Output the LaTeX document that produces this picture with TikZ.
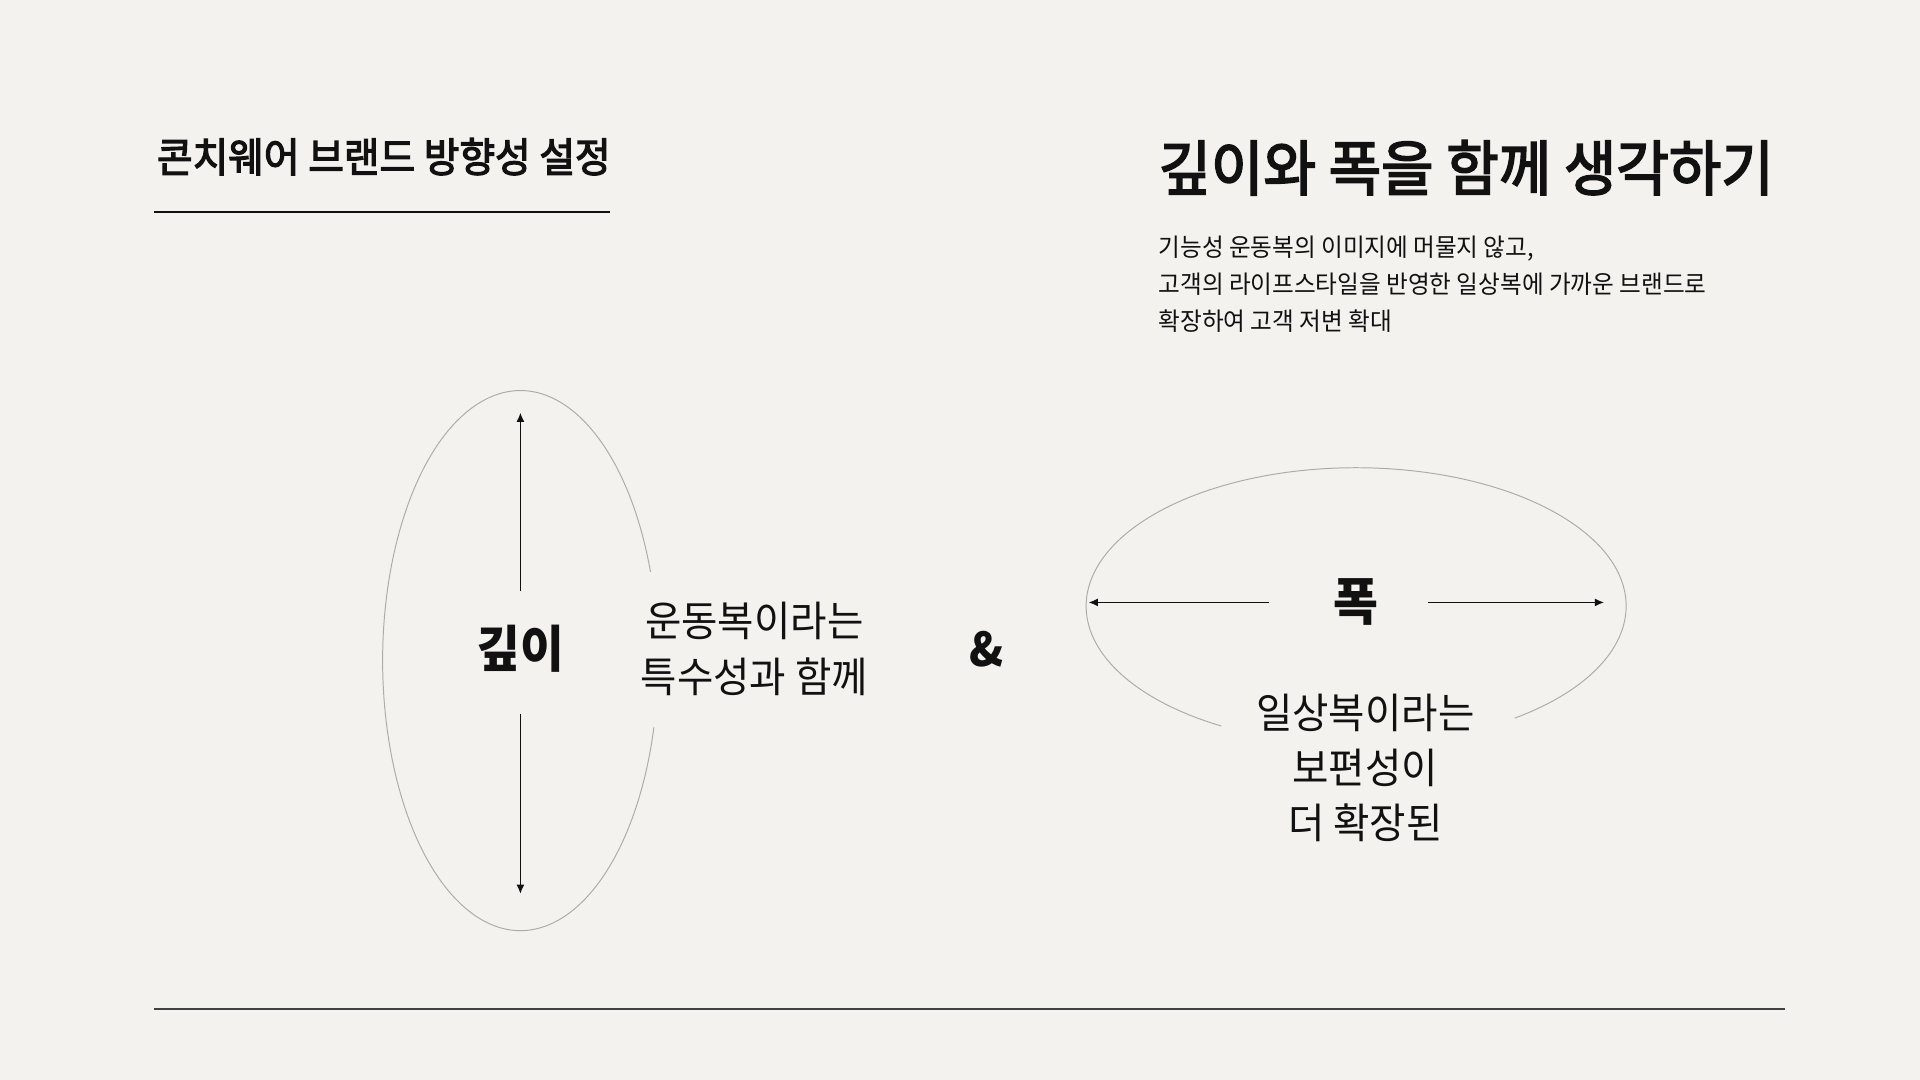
\documentclass[tikz,border=0pt]{standalone}
\usepackage{fontspec}
\usepackage{tikz}
\usetikzlibrary{calc}
\usetikzlibrary{arrows.meta}
\setmainfont[FakeStretch=0.95]{Noto Sans CJK KR}
\newfontfamily\krmed[FakeStretch=0.95,FakeBold=3]{Noto Sans CJK KR}
\definecolor{paper}{RGB}{243, 242, 238}
\definecolor{ink}{RGB}{17, 17, 17}
\definecolor{rim}{RGB}{172, 172, 168}
\newcommand{\fsz}[2]{\fontsize{#1pt}{#2pt}\selectfont}

\begin{document}
\begin{tikzpicture}[x=1pt, y=1pt,
    txt/.style={inner sep=0pt, text=ink},
    rimline/.style={color=rim, line width=0.8pt},
    axis/.style={color=ink, line width=1.2pt, -{Latex[length=7.5pt,width=6.5pt]}}]
  \fill[paper] (0,0) rectangle (1568,882);
  % header
  \node[txt, anchor=west, font=\krmed\fsz{33.3}{38}] (title) at (128,754) {콘치웨어 브랜드 방향성 설정};
  \draw[ink, line width=1.6pt] (126,709) -- (498,709);
  \node[txt, anchor=west, font=\krmed\fsz{49}{56}] (heading) at (946,745) {깊이와 폭을 함께 생각하기};
  \node[txt, anchor=west, align=left, font=\fsz{20.3}{30}] (intro) at (946,650)
       {기능성 운동복의 이미지에 머물지 않고,\\
        고객의 라이프스타일을 반영한 일상복에 가까운 브랜드로\\
        확장하여 고객 저변 확대};
  % depth
  \draw[rimline] (425,342.5) ++(19.2:112.5 and 220.5)
       arc[start angle=19.2, end angle=345.7, x radius=112.5, y radius=220.5];
  \node[txt, font=\bfseries\fsz{41}{46}] (depth) at (425,352) {깊이};
  \coordinate (depthUp) at (425,399);
  \coordinate (depthTop) at (425,545);
  \coordinate (depthDown) at (425,299);
  \coordinate (depthBot) at (425,152);
  \draw[axis] (depthUp) -- (depthTop);
  \draw[axis] (depthDown) -- (depthBot);
  \node[txt, align=center, font=\fsz{34}{46}] (sport) at (616,352) {운동복이라는\\특수성과 함께};
  \node[txt, font=\bfseries\fsz{38}{44}] (amp) at (806,352) {\&};
  % width
  \draw[rimline] (1107.5,387) ++(-54:220.5 and 113)
       arc[start angle=-54, end angle=240, x radius=220.5, y radius=113];
  \node[txt, font=\bfseries\fsz{42}{46}] (breadth) at (1107,390) {폭};
  \coordinate (breadthL) at (1036,390);
  \coordinate (breadthLeft) at (889,390);
  \coordinate (breadthR) at (1166,390);
  \coordinate (breadthRight) at (1310,390);
  \draw[axis] (breadthL) -- (breadthLeft);
  \draw[axis] (breadthR) -- (breadthRight);
  \node[txt, align=center, font=\fsz{34}{45}] (daily) at (1115,255) {일상복이라는\\보편성이\\더 확장된};
  % footer
  \draw[ink!80, line width=1pt] (126,58) -- (1458,58);
\end{tikzpicture}
\end{document}
